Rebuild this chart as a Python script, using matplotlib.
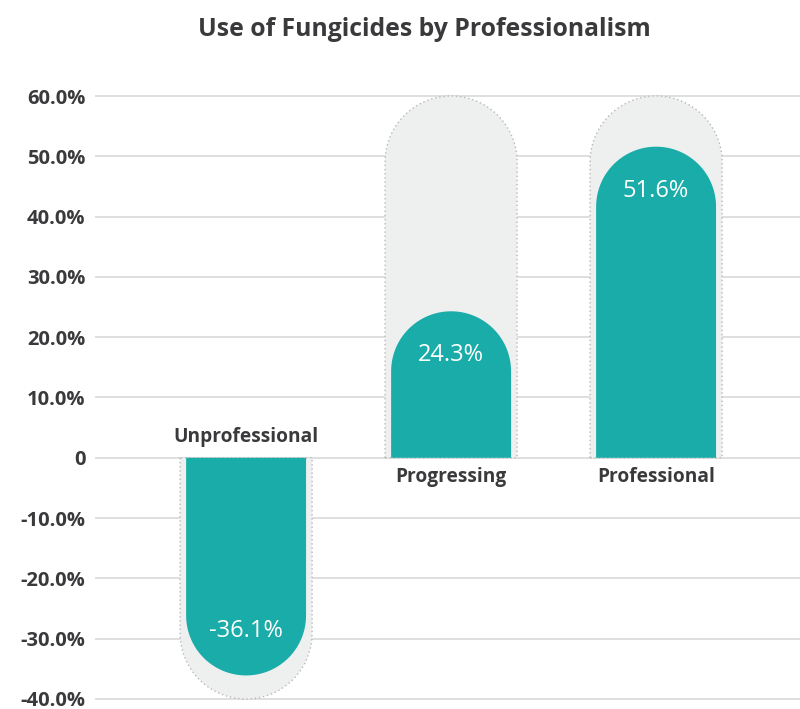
import numpy as np
import matplotlib
matplotlib.use("Agg")
import matplotlib.pyplot as plt
from matplotlib.patches import Polygon

# dados
categories = ["Unprofessional", "Progressing", "Professional"]
values = [-36.1, 24.3, 51.6]
bg_limits = [-40.0, 60.0, 60.0]
yticks = [-40, -30, -20, -10, 0, 10, 20, 30, 40, 50, 60]
ytick_labels = ["-40.0%", "-30.0%", "-20.0%", "-10.0%", "0", "10.0%",
                "20.0%", "30.0%", "40.0%", "50.0%", "60.0%"]

teal = "#1aaca8"
bg_color = "#eef0f0"
text_color = "#3a3a3c"
grid_color = "#dcdcdc"

plt.rcParams['font.family'] = ['Open Sans', 'DejaVu Sans']

fig = plt.figure(figsize=(8, 7.09), dpi=100)
W, H = 800, 709
ax = fig.add_axes([95 / W, 4 / H, 705 / W, 615 / H])
ax.set_xlim(-0.737, 2.702)
ax.set_ylim(-41, 61)

for s in ax.spines.values():
    s.set_visible(False)
ax.set_xticks([])
ax.set_yticks(yticks)
ax.set_yticklabels(ytick_labels, fontsize=14.5, fontweight='bold', color=text_color)
ax.tick_params(axis='y', length=0, pad=7)
ax.grid(axis='y', color=grid_color, linewidth=1.3)
ax.set_axisbelow(True)

# pixels por unidade para manter os topos circulares
px_x = ax.transData.transform((1, 0))[0] - ax.transData.transform((0, 0))[0]
px_y = ax.transData.transform((0, 1))[1] - ax.transData.transform((0, 0))[1]


def capsule(xc, val, width, **kw):
    rx = width / 2
    ry = rx * px_x / px_y
    sign = 1 if val >= 0 else -1
    base = val - sign * ry
    t = np.linspace(np.pi, 0, 60)
    arc = np.column_stack([xc + rx * np.cos(t), base + sign * ry * np.sin(t)])
    pts = np.vstack([[xc - rx, 0], arc, [xc + rx, 0]])
    return Polygon(pts, closed=True, **kw)


x = np.arange(len(categories))
for xi, lim in zip(x, bg_limits):
    ax.add_patch(capsule(xi, lim, 0.644, facecolor=bg_color, edgecolor="#b8b8b8",
                         linestyle=(0, (1, 2)), linewidth=1.0, zorder=2, clip_on=False))
for xi, v in zip(x, values):
    ax.add_patch(capsule(xi, v, 0.585, facecolor=teal, edgecolor='none', zorder=3,
                         clip_on=False))
    sign = 1 if v >= 0 else -1
    ax.text(xi, v - sign * 7.3, f"{v:.1f}%", ha='center', va='center',
            color='white', fontsize=17, zorder=4)

for xi, v, name in zip(x, values, categories):
    y = 3.5 if v < 0 else -3.2
    ax.text(xi, y, name, ha='center', va='center', fontsize=13.8,
            fontweight='bold', color=text_color, zorder=4)

fig.text(424 / W, 1 - 30 / H, "Use of Fungicides by Professionalism",
         ha='center', va='center', fontsize=17.8, fontweight='bold', color=text_color)

fig.savefig("out.png", dpi=100)
